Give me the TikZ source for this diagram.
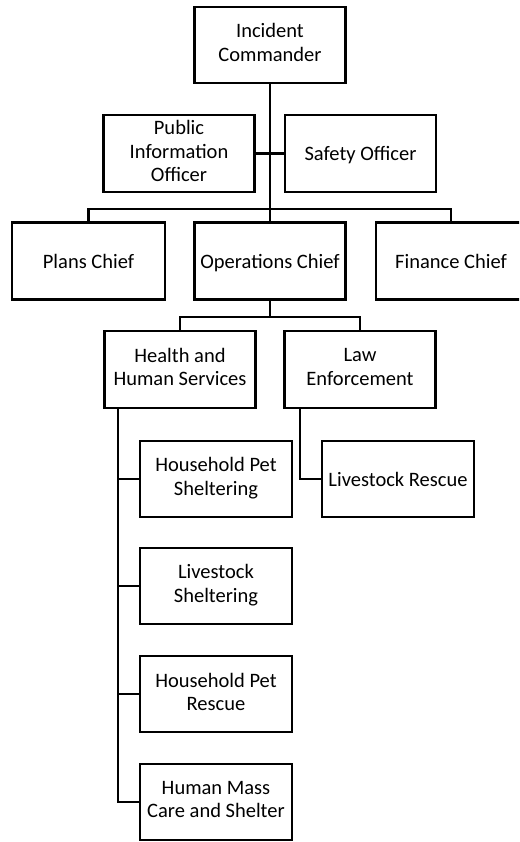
\documentclass[tikz,border=0pt]{standalone}
\usepackage{fontspec}
\setmainfont{Carlito}
\begin{document}
\begin{tikzpicture}[x=1pt,y=-1pt,
  box/.style={draw=black,line width=2.8pt,fill=white,minimum width=151pt,minimum height=77pt,inner sep=0.5pt,align=center,font=\fontsize{20.5}{23.5}\selectfont,execute at begin node={\rule{0pt}{18.75pt}},execute at end node={\rule[-4.75pt]{0pt}{4.75pt}}},
  conn/.style={draw=black,line width=2.4pt}]
\useasboundingbox[fill=white] (0,0) rectangle (519,842);
\begin{scope}
\clip (0,0) rectangle (519,842);
\coordinate (b1) at (270,209);
\coordinate (b2) at (270,317);
\coordinate (hv) at (118,0);
\coordinate (lv) at (300,0);
\node[box,minimum height=76pt] (ic) at (270,45) {Incident\\Commander};
\node[box] (pio) at (179,153.5) {Public\\Information\\Officer};
\node[box] (safety) at (360.5,153.5) {Safety Officer};
\node[box,minimum width=153pt] (plans) at (88.5,261) {Plans Chief};
\node[box] (ops) at (270,261) {Operations Chief};
\node[box,minimum width=150pt] (fin) at (451,261) {Finance Chief};
\node[box] (hhs) at (180,369.5) {Health and\\Human Services};
\node[box] (law) at (360,369.5) {Law\\Enforcement};
\node[box,minimum width=152pt,minimum height=76pt] (hps) at (216,479) {Household Pet\\Sheltering};
\node[box,minimum width=152pt,minimum height=76pt] (ls) at (216,586) {Livestock\\Sheltering};
\node[box,minimum width=152pt,minimum height=76pt] (hpr) at (216,694) {Household Pet\\Rescue};
\node[box,minimum width=152pt,minimum height=76pt] (hmc) at (216,802) {Human Mass\\Care and Shelter};
\node[box,minimum width=152pt,minimum height=76pt] (lr) at (398,479) {Livestock Rescue};
\draw[conn] (ic.south) -- (ops.north);
\draw[conn] (pio.east) -- (safety.west);
\draw[conn] (plans.north) |- (b1) -| (fin.north);
\draw[conn] (ops.south) -- (b2);
\draw[conn] (hhs.north) |- (b2) -| (law.north);
\draw[conn] (hhs.south -| hv) |- (hmc.west);
\draw[conn] (hps.west) -- (hps.west -| hv);
\draw[conn] (ls.west) -- (ls.west -| hv);
\draw[conn] (hpr.west) -- (hpr.west -| hv);
\draw[conn] (law.south -| lv) |- (lr.west);
\end{scope}
\end{tikzpicture}
\end{document}
